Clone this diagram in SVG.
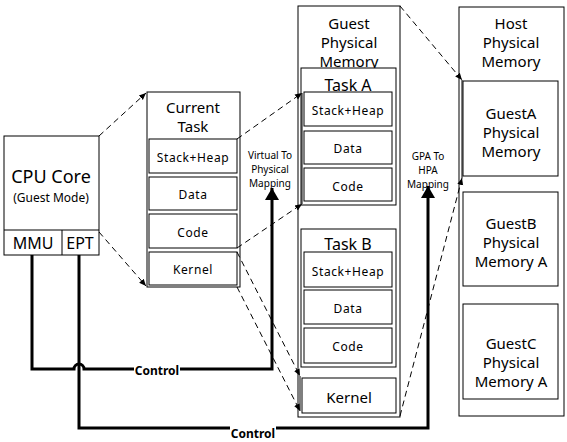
<svg xmlns="http://www.w3.org/2000/svg" width="567" height="442" viewBox="0 0 567 442">
<style>
.box{fill:#fff;stroke:#000;stroke-width:1}
.t{font-family:"Noto Sans","Open Sans",sans-serif;fill:#000;text-anchor:middle;dominant-baseline:central}
.big{font-size:15px}
.mid{font-size:15px}
.sm{font-size:12px;letter-spacing:0.6px}
.xs{font-size:10px}
.dash{fill:none;stroke:#000;stroke-width:1;stroke-dasharray:6,4}
.thin{fill:none;stroke:#000;stroke-width:1}
.thick{fill:none;stroke:#000;stroke-width:3}
.ctl{font-family:"Noto Sans","Open Sans",sans-serif;font-size:12px;font-weight:bold;text-anchor:middle;dominant-baseline:central}
</style>
<defs>
<marker id="ah" markerWidth="8" markerHeight="8" refX="7" refY="4" orient="auto" markerUnits="userSpaceOnUse">
<path d="M0,1 L7,4 L0,7 Z" fill="#000"/>
</marker>
<marker id="big" markerWidth="14" markerHeight="14" refX="12" refY="7" orient="auto" markerUnits="userSpaceOnUse">
<path d="M0,0 L12,7 L0,14 Z" fill="#000"/>
</marker>
</defs>
<rect width="567" height="442" fill="#fff"/>

<g id="cpu">
<rect class="box" x="4" y="136" width="95" height="119"/>
<line class="thin" x1="4" y1="230" x2="99" y2="230"/>
<line class="thin" x1="62" y1="230" x2="62" y2="255"/>
<text class="t" x="51" y="176" font-size="18">CPU Core</text>
<text class="t" x="51" y="197" font-size="12">(Guest Mode)</text>
<text class="t" x="33" y="243" font-size="16">MMU</text>
<text class="t" x="80" y="243" font-size="16">EPT</text>
</g>

<g id="current-task">
<rect class="box" x="147" y="92" width="93" height="195"/>
<text class="t big" x="193" y="107">Current</text>
<text class="t big" x="193" y="126">Task</text>
<rect class="box" x="149" y="139" width="88" height="34"/>
<text class="t sm" x="193" y="157">Stack+Heap</text>
<rect class="box" x="149" y="177" width="88" height="33"/>
<text class="t sm" x="193" y="194">Data</text>
<rect class="box" x="149" y="214" width="88" height="34"/>
<text class="t sm" x="193" y="232">Code</text>
<rect class="box" x="149" y="252" width="88" height="33"/>
<text class="t sm" x="193" y="269">Kernel</text>
</g>

<g id="guest-physical-memory">
<rect class="box" x="298" y="6" width="102" height="411"/>
<text class="t big" x="349" y="23">Guest</text>
<text class="t big" x="349" y="42">Physical</text>
<text class="t big" x="349" y="61">Memory</text>
<g id="task-a">
<rect class="box" x="301" y="68" width="95" height="137"/>
<text class="t" x="348" y="85" font-size="16">Task A</text>
<rect class="box" x="304" y="92" width="88" height="34"/>
<text class="t sm" x="348" y="110">Stack+Heap</text>
<rect class="box" x="304" y="131" width="88" height="33"/>
<text class="t sm" x="348" y="148">Data</text>
<rect class="box" x="304" y="168" width="88" height="33"/>
<text class="t sm" x="348" y="186">Code</text>
</g>
<g id="task-b">
<rect class="box" x="301" y="229" width="95" height="138"/>
<text class="t" x="348" y="244" font-size="16">Task B</text>
<rect class="box" x="304" y="252" width="88" height="35"/>
<text class="t sm" x="348" y="271">Stack+Heap</text>
<rect class="box" x="304" y="290" width="88" height="34"/>
<text class="t sm" x="348" y="308">Data</text>
<rect class="box" x="304" y="328" width="88" height="35"/>
<text class="t sm" x="348" y="346">Code</text>
</g>
<g id="gpm-kernel">
<rect class="box" x="302" y="378" width="94" height="35"/>
<text class="t mid" x="349" y="397">Kernel</text>
</g>
</g>

<g id="host-physical-memory">
<rect class="box" x="459" y="7" width="105" height="409"/>
<text class="t big" x="511" y="23">Host</text>
<text class="t big" x="511" y="42">Physical</text>
<text class="t big" x="511" y="61">Memory</text>
<g id="guest-a">
<rect class="box" x="463" y="81" width="95" height="95"/>
<text class="t big" x="511" y="113">GuestA</text>
<text class="t big" x="511" y="132">Physical</text>
<text class="t big" x="511" y="151">Memory</text>
</g>
<g id="guest-b">
<rect class="box" x="463" y="192" width="95" height="94"/>
<text class="t big" x="511" y="223">GuestB</text>
<text class="t big" x="511" y="242">Physical</text>
<text class="t big" x="511" y="261">Memory A</text>
</g>
<g id="guest-c">
<rect class="box" x="463" y="304" width="95" height="95"/>
<text class="t big" x="511" y="343">GuestC</text>
<text class="t big" x="511" y="362">Physical</text>
<text class="t big" x="511" y="381">Memory A</text>
</g>
</g>

<g id="labels">
<text class="t xs" x="270" y="155">Virtual To</text>
<text class="t xs" x="270" y="169">Physical</text>
<text class="t xs" x="270" y="183">Mapping</text>
<text class="t xs" x="428" y="156">GPA To</text>
<text class="t xs" x="428" y="170">HPA</text>
<text class="t xs" x="428" y="184">Mapping</text>
</g>

<g id="connectors">
<line class="dash" x1="99" y1="136" x2="146" y2="93" marker-end="url(#ah)"/>
<line class="dash" x1="99" y1="232" x2="146" y2="286" marker-end="url(#ah)"/>
<line class="dash" x1="237" y1="139" x2="302" y2="93" marker-end="url(#ah)"/>
<line class="dash" x1="237" y1="248" x2="302" y2="204" marker-end="url(#ah)"/>
<line class="thin" x1="302" y1="93" x2="302" y2="204"/>
<line class="dash" x1="237" y1="252" x2="300" y2="376" marker-end="url(#ah)"/>
<line class="dash" x1="237" y1="287" x2="300" y2="411" marker-end="url(#ah)"/>
<line class="thin" x1="300" y1="376" x2="300" y2="411"/>
<line class="dash" x1="400" y1="6" x2="462" y2="80" marker-end="url(#ah)"/>
<line class="dash" x1="400" y1="416" x2="462" y2="178" marker-end="url(#ah)"/>
<line class="thin" x1="462" y1="80" x2="462" y2="178"/>
<path class="thick" d="M32,255 V369 H74 A5,5 0 0 1 84,369 H272 V188" marker-end="url(#big)"/>
<path class="thick" d="M79,255 V428 H428 V186" marker-end="url(#big)"/>
<rect x="134" y="362" width="46" height="14" fill="#fff"/>
<text class="ctl" x="157" y="370">Control</text>
<rect x="230" y="426" width="46" height="14" fill="#fff"/>
<text class="ctl" x="253" y="433">Control</text>
</g>
</svg>
